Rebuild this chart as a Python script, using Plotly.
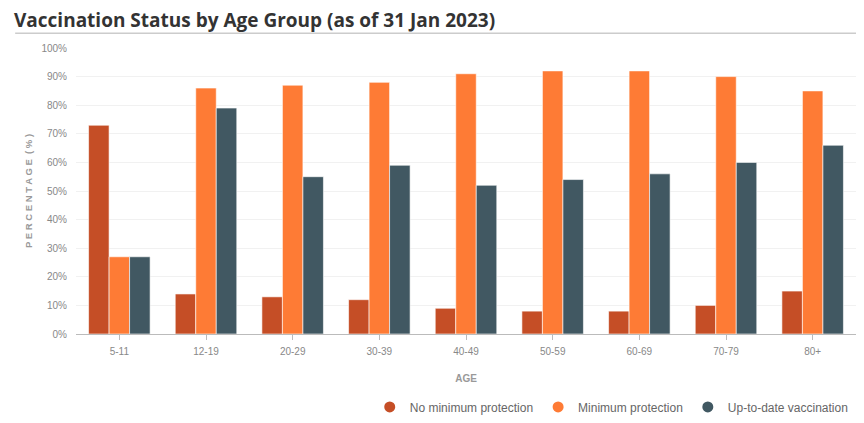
import plotly.graph_objects as go

# Age groups and % of each group by vaccination status
ages = ["5-11", "12-19", "20-29", "30-39", "40-49", "50-59", "60-69", "70-79", "80+"]
no_min_protection = [73, 14, 13, 12, 9, 8, 8, 10, 15]
min_protection = [27, 86, 87, 88, 91, 92, 92, 90, 85]
up_to_date = [27, 79, 55, 59, 52, 54, 56, 60, 66]
y_ticks = list(range(0, 101, 10))

series = [
    ("No minimum protection", no_min_protection, "#c54e26"),
    ("Minimum protection", min_protection, "#fe7b35"),
    ("Up-to-date vaccination", up_to_date, "#415862"),
]

fig = go.Figure()
for name, vals, color in series:
    fig.add_trace(go.Bar(
        x=ages, y=vals, name=name, marker_color=color,
        marker_line=dict(color="white", width=0.6),
        showlegend=False,
    ))
    # round legend markers
    fig.add_trace(go.Scatter(
        x=[None], y=[None], mode="markers", name=name,
        marker=dict(color=color, size=11, symbol="circle"),
    ))

# page body adds an 8px margin, so the figure is 8px smaller than the window
fig.update_layout(
    width=856, height=415,
    margin=dict(l=68, r=8, t=40, b=89, autoexpand=False),
    paper_bgcolor="white", plot_bgcolor="white",
    font=dict(family="Open Sans, Liberation Sans, sans-serif", color="#888"),
    title=dict(
        text="<b>Vaccination Status by Age Group (as of 31 Jan 2023)</b>",
        x=0.007, xanchor="left", y=1.0, yanchor="top",
        pad=dict(l=0, t=6, b=0),
        font=dict(size=19, color="#333", family="Open Sans, sans-serif"),
    ),
    barmode="group", bargap=0.29, bargroupgap=0,
    legend=dict(
        orientation="h", xref="container", yref="container",
        x=0.988, xanchor="right", y=0.0386, yanchor="middle",
        font=dict(size=12, color="#666", family="Liberation Sans, Arial, sans-serif"),
        itemwidth=30, tracegroupgap=0,
    ),
    shapes=[dict(
        type="line", xref="paper", yref="paper",
        x0=-0.078, x1=1.001, y0=1.052, y1=1.052,
        line=dict(color="#cccccc", width=1.5),
    )],
)
fig.update_xaxes(
    showgrid=False, showline=True, linecolor="#bbbbbb", linewidth=1.2,
    ticks="outside", ticklen=5, tickcolor="#bbbbbb", ticklabelstandoff=3,
    tickfont=dict(size=10, color="#888", family="Liberation Sans, Arial, sans-serif"),
    title=dict(text="<b>AGE</b>", standoff=18,
               font=dict(size=10, color="#999", family="Liberation Sans, Arial, sans-serif")),
)
fig.update_yaxes(
    range=[0, 100], tickvals=y_ticks, ticktext=[f"{v}%" for v in y_ticks],
    showgrid=True, gridcolor="#f1f1f1", gridwidth=1, zeroline=False,
    tickfont=dict(size=10, color="#888", family="Liberation Sans, Arial, sans-serif"),
    ticklen=6, ticks="outside", tickcolor="white",
    title=dict(text="<b>P E R C E N T A G E  ( % )</b>", standoff=7,
               font=dict(size=9.5, color="#999", family="Liberation Sans, Arial, sans-serif")),
)

fig.write_html("out.html")
